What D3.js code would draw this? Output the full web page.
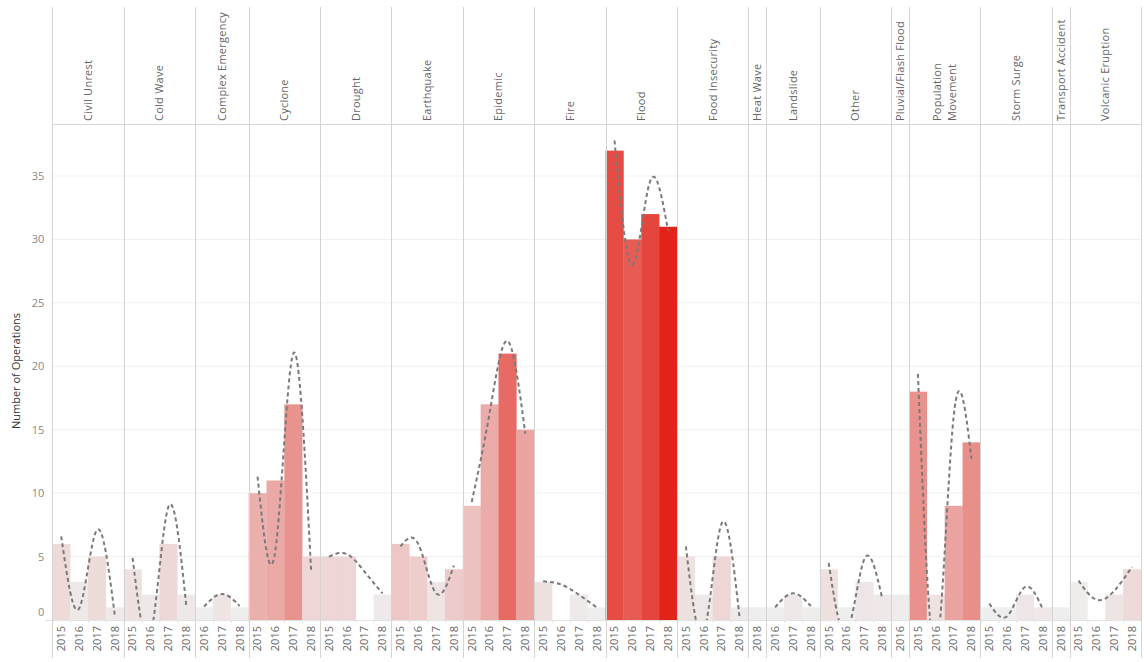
<!DOCTYPE html>
<html>
<head>
<meta charset="utf-8">
<script src="https://cdn.jsdelivr.net/npm/d3@7"></script>
<style>
  body { margin: 0; background: #fff; }
  svg text { font-family: "Open Sans", "DejaVu Sans", sans-serif; }
</style>
</head>
<body>
<div id="chart"></div>
<script>
var width = 1144;
var height = 662;
var margin = {top: 7, left: 52.3, right: 3, bottom: 4};
var headerBottom = 124;
var plotBottom = 620;

// emergency types (one panel each) and the years each one has
var types = ["Civil Unrest", "Cold Wave", "Complex Emergency", "Cyclone", "Drought", "Earthquake",
  "Epidemic", "Fire", "Flood", "Food Insecurity", "Heat Wave", "Landslide", "Other",
  "Pluvial/Flash Flood", "Population Movement", "Storm Surge", "Transport Accident", "Volcanic Eruption"];

var typeYears = [
  [2015, 2016, 2017, 2018],
  [2015, 2016, 2017, 2018],
  [2016, 2017, 2018],
  [2015, 2016, 2017, 2018],
  [2015, 2016, 2017, 2018],
  [2015, 2016, 2017, 2018],
  [2015, 2016, 2017, 2018],
  [2015, 2016, 2017, 2018],
  [2015, 2016, 2017, 2018],
  [2015, 2016, 2017, 2018],
  [2018],
  [2016, 2017, 2018],
  [2015, 2016, 2017, 2018],
  [2016],
  [2015, 2016, 2017, 2018],
  [2015, 2016, 2017, 2018],
  [2018],
  [2015, 2016, 2017, 2018]
];

// number of operations (bars); null = no bar that year
var operations = [
  [6, 3, 5, 1],
  [4, 2, 6, 2],
  [1, 2, 1],
  [10, 11, 17, 5],
  [5, 5, null, 2],
  [6, 5, 3, 4],
  [9, 17, 21, 15],
  [3, null, 2, 1],
  [37, 30, 32, 31],
  [5, 2, 5, 1],
  [1],
  [1, 2, 1],
  [4, 1, 3, 2],
  [2],
  [18, 2, 9, 14],
  [1, 1, 2, 1],
  [1],
  [3, null, 2, 4]
];

// dashed smooth line values
var trend = [
  [6.6, 0.9, 7.1, 0.4],
  [4.9, -1.2, 8.9, 1.2],
  [1.05, 2.05, 1.1],
  [11.3, 5.5, 21.0, 3.9],
  [5.0, 5.2, 3.8, 2.1],
  [5.8, 6.0, 2.1, 4.3],
  [9.3, 16.3, 22.0, 14.7],
  [3.05, 2.8, 2.0, 1.0],
  [37.8, 28.0, 34.6, 30.7],
  [5.8, -1.0, 7.6, 0.3],
  [1],
  [1.0, 2.1, 1.1],
  [4.5, -1.0, 4.8, 1.7],
  [2],
  [19.4, -2.5, 16.0, 12.7],
  [1.3, 0.3, 2.6, 0.85],
  [1],
  [3.1, 1.6, 2.3, 4.2]
];

// colour measure (0-100) behind the bar tint
var shade = [
  [10, 3, 9, 2],
  [6, 3, 11, 3],
  [0, 5, 0],
  [31, 34, 45, 12],
  [12, 12, null, 2],
  [19, 16, 5, 17],
  [21, 33, 65, 36],
  [6, null, 2, 0],
  [80, 72, 83, 100],
  [6, 3, 12, 2],
  [0],
  [0, 3, 1],
  [7, 0, 4, 3],
  [1],
  [46, 6, 37, 47],
  [0, 0, 4, 3],
  [0],
  [1, null, 5, 10]
];

var yTicks = [0, 5, 10, 15, 20, 25, 30, 35];

var slots = [];
types.forEach(function(t, i) {
  typeYears[i].forEach(function(yr, j) {
    slots.push({type: t, ti: i, year: yr, key: t + "|" + yr,
      value: operations[i][j], trend: trend[i][j], shade: shade[i][j]});
  });
});

var svg = d3.select("#chart")
  .append("svg")
  .attr("width", width)
  .attr("height", height);

var xScale = d3.scaleBand()
  .domain(slots.map(function(d) { return d.key; }))
  .range([margin.left, width - margin.right])
  .padding(0);

var yScale = d3.scaleLinear()
  .domain([0, 35])
  .range([plotBottom, 176]);

var colour = d3.scaleLinear()
  .domain([0, 100])
  .range(["#efeeee", "#e2231a"])
  .interpolate(d3.interpolateRgb);

var bw = xScale.bandwidth();
var xRight = width - margin.right;

// gridlines
svg.append("g")
  .selectAll("line")
  .data(yTicks.slice(1))
  .enter()
  .append("line")
    .attr("x1", margin.left)
    .attr("x2", xRight)
    .attr("y1", function(d) { return yScale(d); })
    .attr("y2", function(d) { return yScale(d); })
    .attr("stroke", "#efefef");

// bars
svg.append("g")
  .selectAll("rect")
  .data(slots.filter(function(d) { return d.value != null; }))
  .enter()
  .append("rect")
    .attr("x", function(d) { return xScale(d.key); })
    .attr("y", function(d) { return yScale(d.value); })
    .attr("width", bw + 0.3)
    .attr("height", function(d) { return yScale(0) - yScale(d.value); })
    .attr("fill", function(d) { return colour(d.shade); });

// zero line and little ticks at slot edges
svg.append("line")
  .attr("x1", 45).attr("x2", xRight)
  .attr("y1", plotBottom + 0.5).attr("y2", plotBottom + 0.5)
  .attr("stroke", "#e2e2e2");

svg.append("g")
  .selectAll("line")
  .data(slots)
  .enter()
  .append("line")
    .attr("x1", function(d) { return xScale(d.key) + 0.5; })
    .attr("x2", function(d) { return xScale(d.key) + 0.5; })
    .attr("y1", plotBottom)
    .attr("y2", plotBottom + 3)
    .attr("stroke", "#e2e2e2");

// dashed smooth line per panel, clipped to the pane
svg.append("clipPath")
  .attr("id", "pane")
  .append("rect")
    .attr("x", margin.left)
    .attr("y", headerBottom)
    .attr("width", xRight - margin.left)
    .attr("height", plotBottom - headerBottom);

var line = d3.line()
  .x(function(d) { return xScale(d.key) + bw / 2; })
  .y(function(d) { return yScale(d.trend); })
  .curve(d3.curveNatural);

var groups = types.map(function(t, i) {
  return slots.filter(function(d) { return d.ti === i; });
}).filter(function(g) { return g.length > 1; });

svg.append("g")
  .attr("clip-path", "url(#pane)")
  .selectAll("path")
  .data(groups)
  .enter()
  .append("path")
    .attr("d", line)
    .attr("fill", "none")
    .attr("stroke", "#7a7a7a")
    .attr("stroke-width", 2)
    .attr("stroke-dasharray", "4,3");

// panel borders
var edges = types.map(function(t, i) { return xScale(t + "|" + typeYears[i][0]); });
edges.push(xRight);

svg.append("g")
  .selectAll("line")
  .data(edges)
  .enter()
  .append("line")
    .attr("x1", function(d) { return Math.round(d) + 0.5; })
    .attr("x2", function(d) { return Math.round(d) + 0.5; })
    .attr("y1", margin.top)
    .attr("y2", height - margin.bottom)
    .attr("stroke", "#d4d4d4");

svg.append("line")
  .attr("x1", margin.left).attr("x2", xRight)
  .attr("y1", headerBottom + 0.5).attr("y2", headerBottom + 0.5)
  .attr("stroke", "#d4d4d4");

// header labels
var header = svg.append("g")
  .selectAll("text")
  .data(types)
  .enter()
  .append("text")
    .attr("transform", function(t, i) {
      var cx = (edges[i] + edges[i + 1]) / 2;
      return "translate(" + cx + "," + (headerBottom - 3) + ") rotate(-90)";
    })
    .attr("font-size", 11)
    .attr("letter-spacing", "0.25px")
    .attr("fill", "#666");

header.each(function(t) {
  var lines = t === "Population Movement" ? ["Population", "Movement"] : [t];
  var el = d3.select(this);
  lines.forEach(function(l, k) {
    el.append("tspan")
      .attr("x", 0)
      .attr("y", (k - (lines.length - 1) / 2) * 15)
      .attr("dy", "0.35em")
      .text(l);
  });
});

// year labels
svg.append("g")
  .selectAll("text")
  .data(slots)
  .enter()
  .append("text")
    .attr("transform", function(d) {
      return "translate(" + (xScale(d.key) + bw / 2) + "," + (plotBottom + 6) + ") rotate(-90)";
    })
    .attr("text-anchor", "end")
    .attr("dy", "0.35em")
    .attr("font-size", 11)
    .attr("fill", "#666")
    .text(function(d) { return d.year; });

// y axis
var yAxis = svg.append("g")
  .attr("transform", "translate(" + margin.left + ",0)")
  .call(d3.axisLeft(yScale).tickValues(yTicks).tickSize(0).tickPadding(8));

yAxis.select(".domain").remove();
yAxis.selectAll("text")
  .attr("font-size", 11)
  .attr("fill", "#888")
  .attr("dy", function(d) { return d === 0 ? "-0.45em" : "0.32em"; });

svg.append("text")
  .attr("transform", "translate(16,371) rotate(-90)")
  .attr("text-anchor", "middle")
  .attr("dy", "0.35em")
  .attr("font-size", 11)
  .attr("fill", "#333")
  .text("Number of Operations");
</script>
</body>
</html>
